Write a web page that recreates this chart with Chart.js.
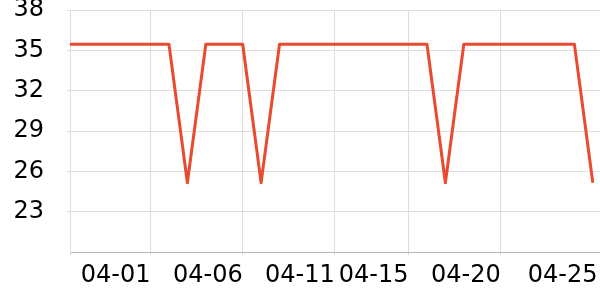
<!DOCTYPE html>
<html lang="en">
<head>
    <meta charset="UTF-8">
    <title>Daily values</title>
    <script src="https://cdn.jsdelivr.net/npm/chart.js"></script>
    <style>
        body {
            margin: 0;
            padding: 0;
            background: #fff;
        }
        #wrap {
            width: 600px;
            height: 300px;
        }
    </style>
</head>
<body>
    <div id="wrap">
        <canvas id="chart"></canvas>
    </div>

    <script>
        // data (one point per day)
        const dates = [
            '03-27', '03-28', '03-29', '03-30', '03-31', '04-01', '04-02', '04-03',
            '04-04', '04-05', '04-06', '04-07', '04-08', '04-09', '04-10', '04-11',
            '04-12', '04-13', '04-14', '04-15', '04-16', '04-17', '04-18', '04-19',
            '04-20', '04-21', '04-22', '04-23', '04-24', '04-25'
        ];
        const values = [
            35.45, 35.45, 35.45, 35.45, 35.45, 35.45, 35.45, 25.15,
            35.45, 35.45, 35.45, 25.15, 35.45, 35.45, 35.45, 35.45,
            35.45, 35.45, 35.45, 35.45, 35.45, 25.15, 35.45, 35.45,
            35.45, 35.45, 35.45, 35.45, 35.45, 25.15
        ];
        const xTickLabels = ['04-01', '04-06', '04-11', '04-15', '04-20', '04-25'];
        const yTickValues = [23, 26, 29, 32, 35, 38];

        // days from 04-01
        function dayNum(s) {
            const [m, d] = s.split('-').map(Number);
            return (Date.UTC(2024, m - 1, d) - Date.UTC(2024, 3, 1)) / 864e5;
        }

        const xMin = -4.37;
        const xMax = 24.39;
        const font = { family: 'DejaVu Sans', size: 24 };

        // the last label sits at the very edge, its grid line is not drawn
        function tickPos(l, i) {
            return i === xTickLabels.length - 1 ? dayNum(l) + 0.25 : dayNum(l);
        }

        const ctx = document.getElementById('chart').getContext('2d');
        const chart = new Chart(ctx, {
            type: 'line',
            data: {
                datasets: [{
                    data: dates.map((d, i) => ({ x: dayNum(d), y: values[i] })),
                    borderColor: '#e94b31',
                    borderWidth: 3,
                    borderJoinStyle: 'round',
                    pointRadius: 0,
                    tension: 0,
                    clip: 0,
                    fill: false
                }]
            },
            options: {
                responsive: true,
                maintainAspectRatio: false,
                animation: false,
                layout: { padding: 0 },
                plugins: {
                    legend: { display: false },
                    tooltip: { enabled: false }
                },
                scales: {
                    x: {
                        type: 'linear',
                        min: xMin,
                        max: xMax,
                        afterBuildTicks: (scale) => {
                            scale.ticks = [{ value: xMin }].concat(
                                xTickLabels.map((l, i) => ({ value: tickPos(l, i) })));
                        },
                        afterFit: (scale) => {
                            scale.height = 48;
                            scale.paddingLeft = 0;
                            scale.paddingRight = 0;
                        },
                        grid: {
                            color: (c) => c.index === xTickLabels.length ? 'rgba(0,0,0,0)' : '#dddddd',
                            tickLength: 3
                        },
                        border: { color: '#b5b5b5' },
                        ticks: {
                            font: font,
                            color: '#000',
                            align: 'end',
                            maxRotation: 0,
                            autoSkip: false,
                            padding: 6,
                            callback: (v, i) => i === 0 ? '' : xTickLabels[i - 1]
                        }
                    },
                    y: {
                        min: 20,
                        max: 38,
                        afterBuildTicks: (scale) => {
                            scale.ticks = yTickValues.map(v => ({ value: v }));
                        },
                        afterFit: (scale) => {
                            scale.width = 70;
                            scale.paddingTop = 10;
                            scale.paddingBottom = 0;
                        },
                        grid: { color: '#dddddd', tickLength: 3 },
                        border: { color: '#dddddd' },
                        ticks: {
                            font: font,
                            color: '#000',
                            padding: 23
                        }
                    }
                }
            }
        });
    </script>
</body>
</html>
